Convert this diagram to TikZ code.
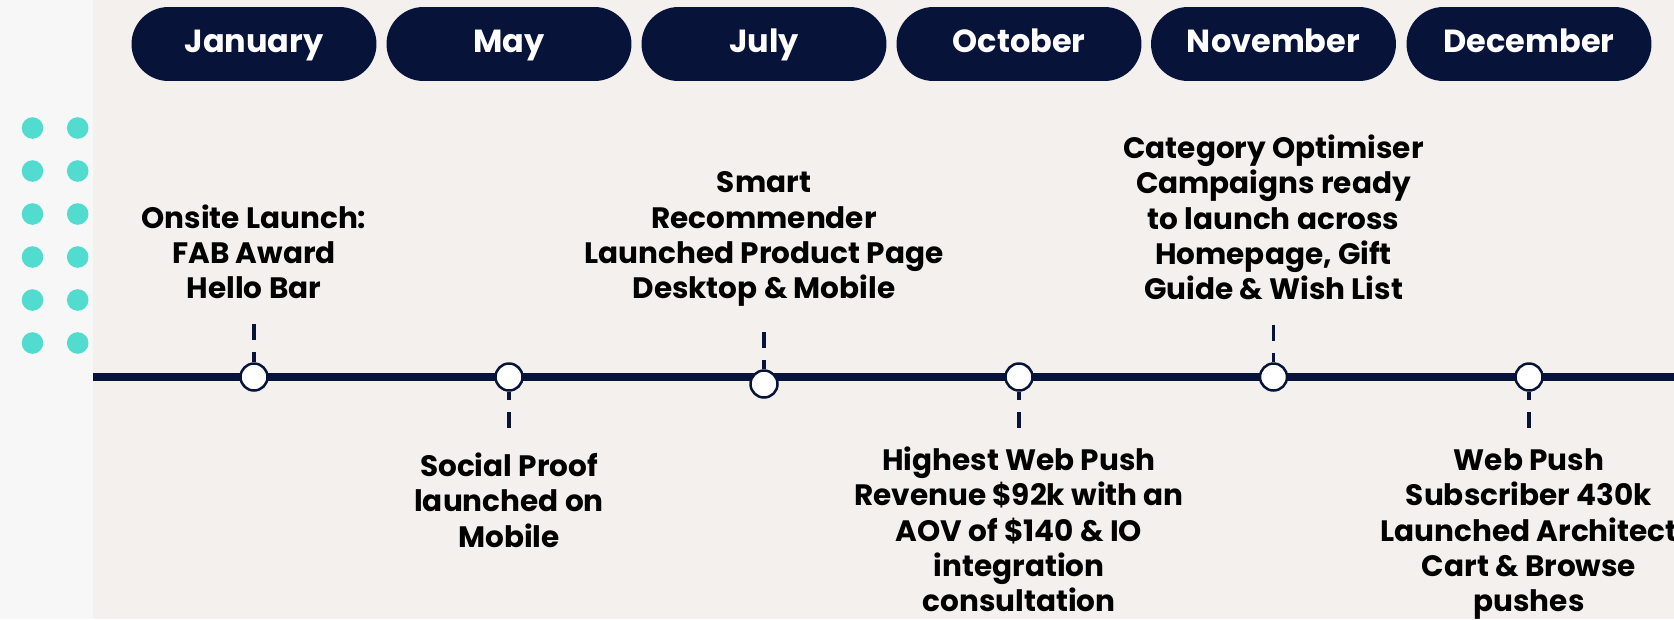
\documentclass[tikz,border=0pt]{standalone}
\usepackage{fontspec}
\setmainfont{Poppins}
\usepackage{xcolor}
\usepackage{tikz}
\usetikzlibrary{shapes,positioning}
\definecolor{navy}{HTML}{071338}
\definecolor{mint}{HTML}{52DCCF}
\definecolor{paper}{HTML}{F4F0EE}
\definecolor{strip}{HTML}{F7F7F7}
\tikzstyle{month} = [fill=navy, text=white, rounded corners=0.74cm, minimum width=4.9cm, minimum height=1.48cm, inner sep=0, font=\fontsize{18.2}{22}\selectfont\bfseries, text height=13pt, text depth=3pt]
\tikzstyle{event} = [circle, draw=navy, line width=0.05cm, fill=white, minimum size=0.54cm, inner sep=0]
\tikzstyle{note} = [align=center, inner sep=0, font=\fontsize{16.8}{20.1}\selectfont\bfseries]
\tikzstyle{stem} = [draw=navy, line width=0.07cm, dash pattern=on 0.32cm off 0.24cm]

\begin{document}
\begin{tikzpicture}[x=0.02cm,y=-0.02cm]
\fill[paper] (0,0) rectangle (1674,619);
\fill[strip] (0,0) rectangle (93,619);
\useasboundingbox (0,0) rectangle (1674,619);

% dots on the left
\fill[mint] (32.5,128) circle (0.216cm); \fill[mint] (77.7,128) circle (0.216cm);
\fill[mint] (32.5,171) circle (0.216cm); \fill[mint] (77.7,171) circle (0.216cm);
\fill[mint] (32.5,214) circle (0.216cm); \fill[mint] (77.7,214) circle (0.216cm);
\fill[mint] (32.5,257) circle (0.216cm); \fill[mint] (77.7,257) circle (0.216cm);
\fill[mint] (32.5,300) circle (0.216cm); \fill[mint] (77.7,300) circle (0.216cm);
\fill[mint] (32.5,343) circle (0.216cm); \fill[mint] (77.7,343) circle (0.216cm);

% months
\node[month] (jan) at (254,44) {January};
\node[month] (may) at (509,44) {May};
\node[month] (jul) at (764,44) {July};
\node[month] (oct) at (1019,44) {October};
\node[month] (nov) at (1273.5,44) {November};
\node[month] (dec) at (1529,44) {December};

% the line
\coordinate (line-start) at (93,377);
\coordinate (line-end) at (1674,377);
\draw[navy, line width=0.16cm] (line-start) -- (line-end);

\node[event] (jan-dot) at (254,377) {};
\node[event] (may-dot) at (509,377) {};
\node[event] (jul-dot) at (764,384) {};
\node[event] (oct-dot) at (1019,377) {};
\node[event] (nov-dot) at (1273.5,377) {};
\node[event] (dec-dot) at (1529,377) {};

% notes above
\node[note, anchor=south] (jan-note) at (254,309.6)
  {\strut Onsite Launch:\\FAB Award\\Hello Bar\strut};
\node[note, anchor=south] (jul-note) at (764,309.6)
  {\strut Smart\\Recommender\\Launched Product Page\\Desktop \& Mobile\strut};
\node[note, anchor=south] (nov-note) at (1273.5,310.6)
  {\strut Category Optimiser\\Campaigns ready\\to launch across\\Homepage, Gift\\Guide \& Wish List\strut};

% notes below
\node[note, anchor=north] (may-note) at (509,451.3)
  {\strut Social Proof\\launched on\\Mobile\strut};
\node[note, anchor=north] (oct-note) at (1019,445.3)
  {\strut Highest Web Push\\Revenue \$92k with an\\AOV of \$140 \& IO\\integration\\consultation\strut};
\node[note, anchor=north] (dec-note) at (1529,445.3)
  {\strut Web Push\\Subscriber 430k\\Launched Architect\\Cart \& Browse\\pushes\strut};

\draw[stem, shorten <=0.29cm] (jan-note) -- (jan-dot);
\draw[stem, shorten <=0.45cm] (jul-note) -- (jul-dot);
\draw[stem, shorten <=0.28cm] (nov-note) -- (nov-dot);
\draw[stem, shorten <=0.47cm] (may-note) -- (may-dot);
\draw[stem, shorten <=0.35cm] (oct-note) -- (oct-dot);
\draw[stem, shorten <=0.35cm] (dec-note) -- (dec-dot);
\end{tikzpicture}
\end{document}
